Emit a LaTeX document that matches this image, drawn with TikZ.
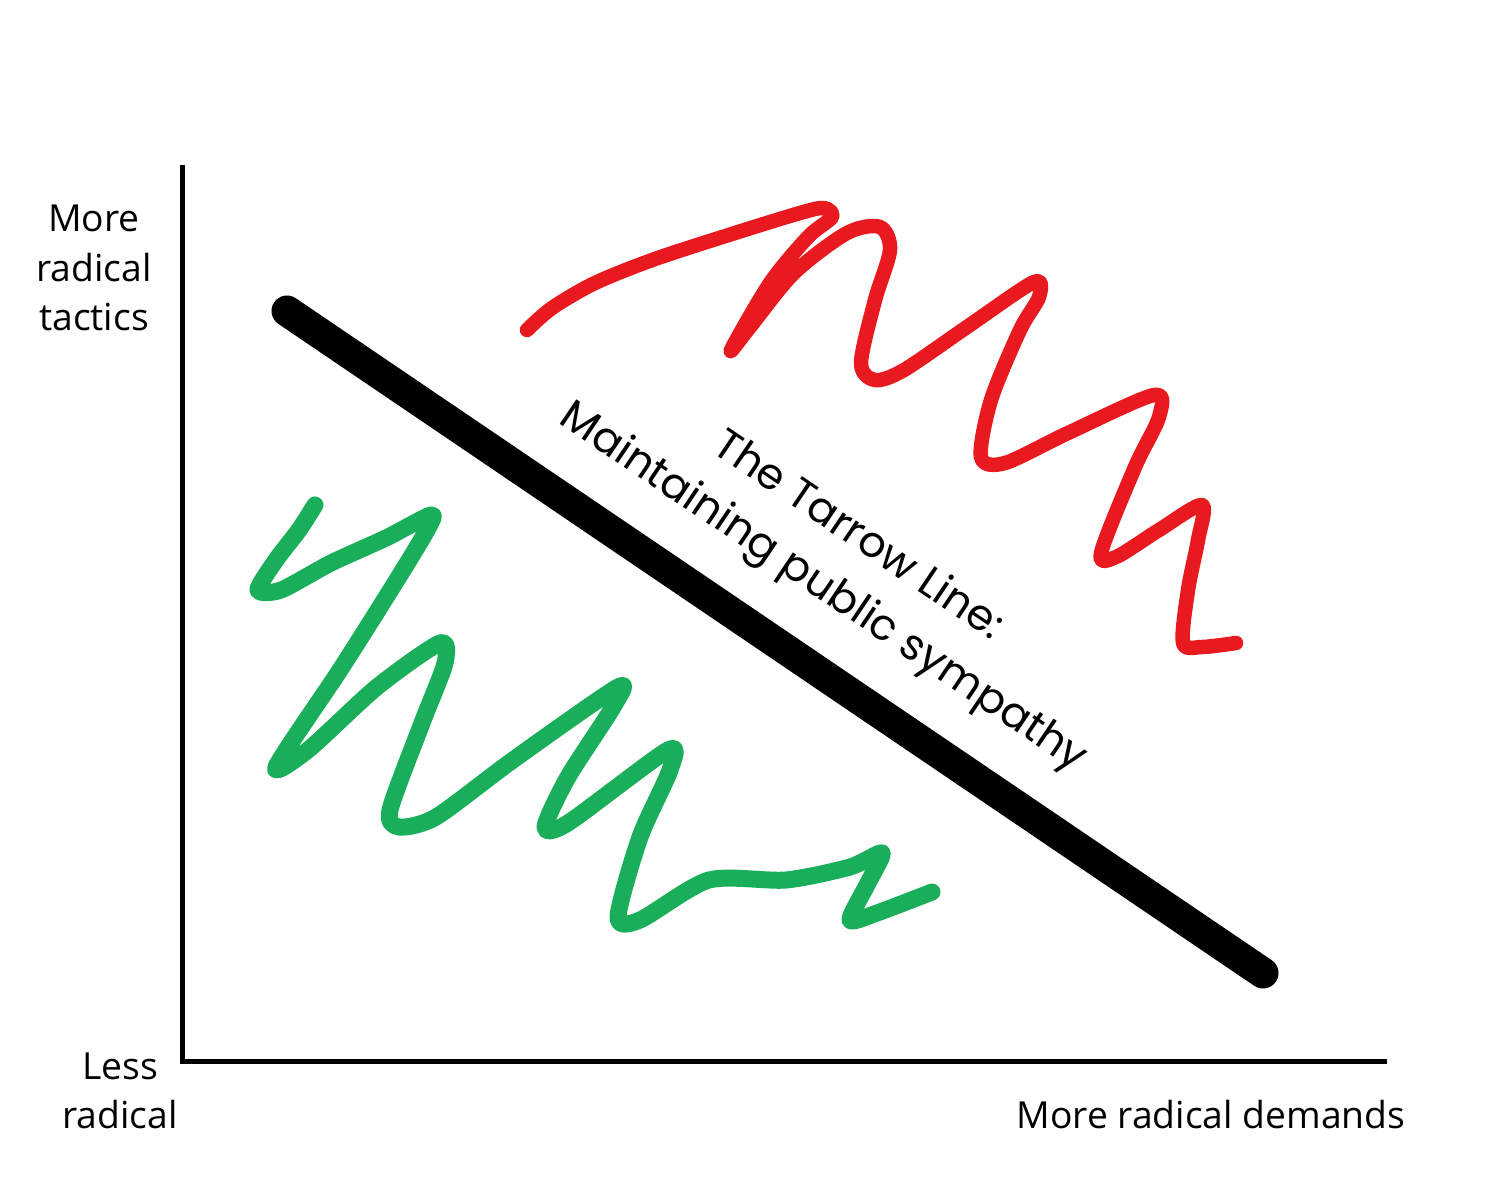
\documentclass[tikz,border=0pt]{standalone}
\usepackage{fontspec}
\setmainfont{Open Sans}
\newfontfamily\poppins{Poppins}
\usepackage{tikz}
\usepackage{xcolor}
\usetikzlibrary{positioning, calc}
\definecolor{tacticred}{HTML}{E8191F}
\definecolor{tacticgreen}{HTML}{19AE5A}

\begin{document}
\begin{tikzpicture}[x=0.1mm, y=-0.1mm]
                % Define the styles for axes, scribbles and labels
                \tikzstyle{axis line}=[line width=0.5mm, line cap=rect];
                \tikzstyle{scribble}=[line width=1.5mm, line cap=round, line join=round];
                \tikzstyle{axis label}=[font=\fontsize{10.6}{14}\selectfont, align=center, inner sep=0pt];
                
                % Page frame
                \useasboundingbox (0,0) rectangle (1500,1200);
                
                % Coordinates for the axes
                \coordinate (origin) at (182,1061);
                \coordinate (ytop) at (182,168);
                \coordinate (xend) at (1384,1061);
                
                % Draw the axes
                \draw[axis line] (ytop) -- (origin) -- (xend);
                
                % Axis labels
                \node[axis label] (tactics) at (94,268) {More\\radical\\tactics};
                \node[axis label] (less) at (120,1091) {Less\\radical};
                \node[axis label, anchor=base] (demands) at (1211,1128) {More radical demands};
                
                % Draw the Tarrow line
                \coordinate (tarrowA) at (287,311);
                \coordinate (tarrowB) at (1263,973);
                \draw[line width=3.1mm, line cap=round] (tarrowA) -- (tarrowB);
                \node[rotate=-34, align=center, font=\poppins\fontsize{12.2}{17.6}\selectfont] (tarrow) at (840,563)
                    {The Tarrow Line:\\Maintaining public sympathy};
                
                % Red scribble above the line
                \draw[scribble, tacticred, line width=1.45mm] plot[smooth, tension=0.5] coordinates {
                    (527,330) (552,308) (595,283) (655,259) (735,233) (800,213) (824,208) (832,217)
                    (808,237) (770,283) (731,350) (750,327) (794,273) (847,233) (880,227)
                    (890,250) (875,300) (861,363) (875,380) (904,370) (967,327) (1034,282)
                    (1039,297) (1020,330) (991,400) (981,457) (1005,463) (1068,433) (1154,395)
                    (1159,417) (1135,467) (1101,553) (1116,557) (1159,530) (1202,505) (1198,540)
                    (1188,590) (1183,643) (1202,647) (1236,643)};
                
                % Green scribble below the line
                \draw[scribble, tacticgreen, line width=1.7mm] plot[smooth, tension=0.45] coordinates {
                    (315,505) (299,530) (276,560) (258,590) (281,590) (331,563) (386,538)
                    (431,515) (427,530) (395,583) (340,670) (276,767) (308,750) (377,687)
                    (440,643) (445,663) (422,723) (390,810) (399,827) (436,817) (513,760)
                    (618,687) (613,707) (568,777) (545,827) (568,823) (668,750) (670,770)
                    (640,837) (618,917) (640,920) (709,880) (786,880) (850,867) (882,853)
                    (868,883) (850,920) (877,913) (932,892)};
                
            \end{tikzpicture}
\end{document}
